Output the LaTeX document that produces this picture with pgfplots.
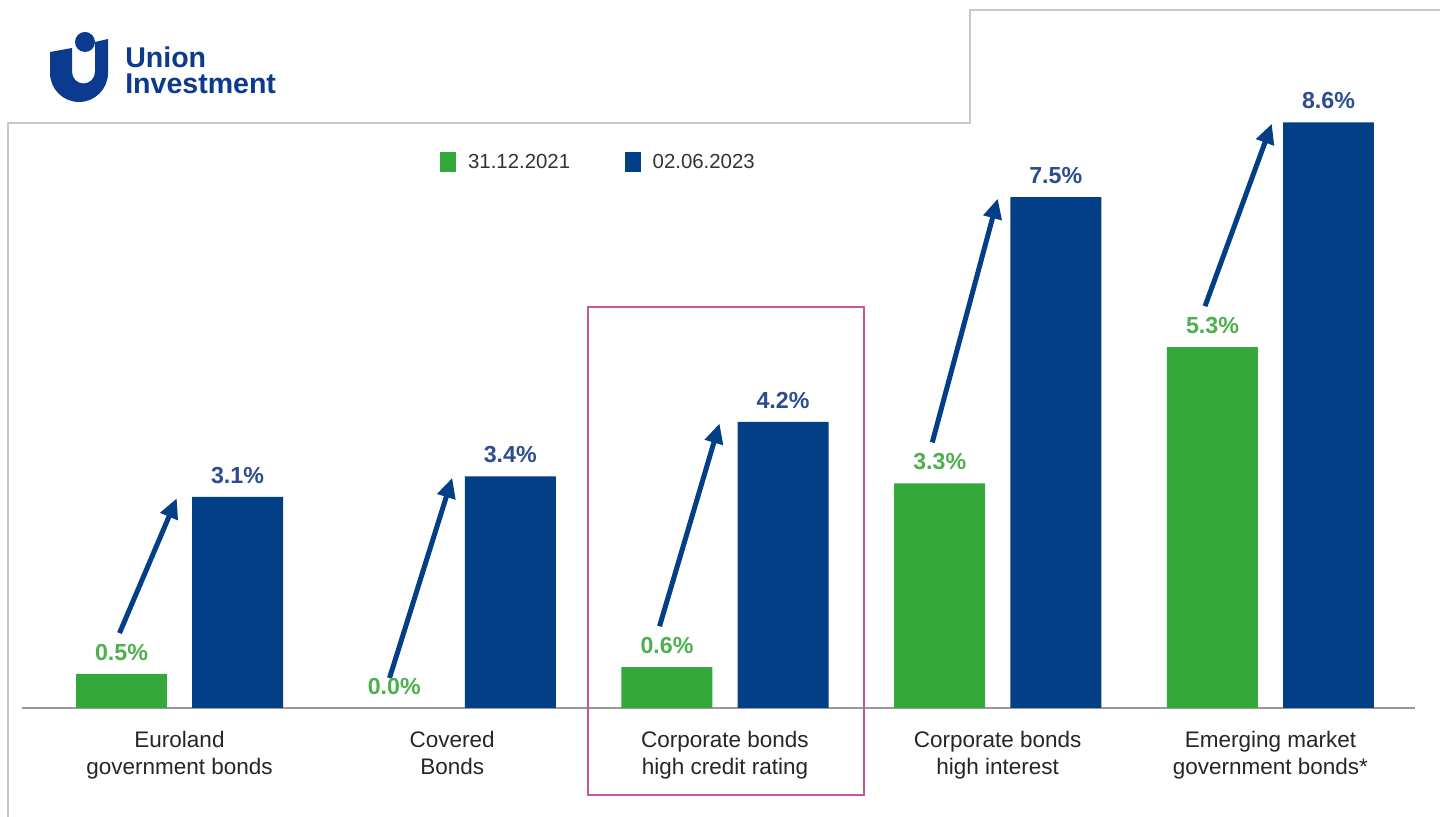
\documentclass[border=0pt]{standalone}
\usepackage{pgfplots}
\pgfplotsset{compat=1.18}
\usepackage{pgfplotstable}
\usepackage{fontspec}
\setmainfont{Liberation Sans}
\usetikzlibrary{arrows.meta}
\definecolor{ggreen}{HTML}{34A83A}
\definecolor{gblue}{HTML}{023F86}
\definecolor{lgreen}{HTML}{4DB04F}
\definecolor{lblue}{HTML}{2C4E8E}
\definecolor{logoblue}{HTML}{0B3A8E}
\definecolor{pinkbox}{HTML}{C4569B}
\definecolor{panelgray}{HTML}{C8C8C8}
\pgfplotsset{/pgf/number format/assume math mode=true}

% green: 31.12.2021 ; blue: 02.06.2023 (x = category index shifted to bar position)
\pgfplotstableread{
x y
-0.2127 0.5
0.7873 0.0
1.7873 0.6
2.7873 3.3
3.7873 5.3
}\greendata
\pgfplotstableread{
x y
0.2127 3.1
1.2127 3.4
2.2127 4.2
3.2127 7.5
4.2127 8.6
}\bluedata

\begin{document}
\begin{tikzpicture}
\begin{scope}[x=0.25mm,y=0.25mm]
\useasboundingbox (0,0) rectangle (1440,817);
\fill[white] (0,0) rectangle (1440,817);
% panel outline
\draw[panelgray, line width=0.5mm] (8,0) -- (8,694) -- (970,694) -- (970,807) -- (1440,807);
% logo
\fill[logoblue] (50,765) -- (72,769) -- (72,745) arc[start angle=180,end angle=360,radius=11.5] -- (95,775) -- (108,778) -- (108,744) arc[start angle=0,end angle=-180,radius=29] -- cycle;
\fill[logoblue] (85,775) circle[radius=10];
\node[anchor=base west, inner sep=0, font=\fontsize{20.3}{24}\selectfont\bfseries, text=logoblue] at (125,749) {Union};
\node[anchor=base west, inner sep=0, font=\fontsize{20.3}{24}\selectfont\bfseries, text=logoblue] at (125,723) {Investment};
\end{scope}

\begin{axis}[
  at={(5.5mm,27.25mm)}, anchor=south west,
  scale only axis, width=348.25mm, height=153.225mm,
  xmin=-0.5775, xmax=4.53, ymin=0, ymax=9,
  axis x line*=bottom, axis y line=none,
  x axis line style={draw=black!40, line width=0.4mm, -},
  xtick={0,1,2,3,4},
  xticklabels={Euroland\\government bonds, Covered\\Bonds, Corporate bonds\\high credit rating, Corporate bonds\\high interest, Emerging market\\government bonds*},
  major tick length=0pt,
  xticklabel style={align=center, anchor=north, yshift=-4.5mm, font=\fontsize{16}{19.2}\selectfont, text=black!85},
  ytick=\empty,
  clip=false,
  bar width=0.3336,
  nodes near coords={\pgfmathprintnumber[fixed,fixed zerofill,precision=1]{\pgfplotspointmeta}\%},
  every node near coord/.append style={anchor=base, yshift=3.4mm, font=\fontsize{16.5}{18}\selectfont\bfseries},
  legend style={at={(axis description cs:0.3001,0.8907)}, anchor=west, draw=none, fill=none,
    font=\fontsize{14.5}{17}\selectfont, text=black!80, inner sep=0pt,
    /tikz/every even column/.append style={column sep=13mm}},
  legend columns=2,
]
\addlegendimage{legend image code/.code={\fill[ggreen] (0mm,-2.4mm) rectangle (3.75mm,2.4mm); \path (6.1mm,0);}}
\addlegendentry{31.12.2021}
\addlegendimage{legend image code/.code={\fill[gblue] (0mm,-2.4mm) rectangle (3.75mm,2.4mm); \path (6.1mm,0);}}
\addlegendentry{02.06.2023}
\addplot[ybar, bar shift=0pt, fill=ggreen, draw=none, forget plot,
  every node near coord/.append style={text=lgreen}] table {\greendata};
\addplot[ybar, bar shift=0pt, fill=gblue, draw=none, forget plot,
  every node near coord/.append style={text=lblue}] table {\bluedata};
% arrows
\draw[gblue, line width=1.25mm, -{Triangle[length=5mm,width=4.5mm]}] (axis cs:-0.22,1.1) -- (axis cs:-0.01,3.08);
\draw[gblue, line width=1.25mm, -{Triangle[length=5mm,width=4.5mm]}] (axis cs:0.77,0.44) -- (axis cs:1.0,3.38);
\draw[gblue, line width=1.25mm, -{Triangle[length=5mm,width=4.5mm]}] (axis cs:1.76,1.2) -- (axis cs:1.98,4.18);
\draw[gblue, line width=1.25mm, -{Triangle[length=5mm,width=4.5mm]}] (axis cs:2.76,3.9) -- (axis cs:3.0,7.48);
\draw[gblue, line width=1.25mm, -{Triangle[length=5mm,width=4.5mm]}] (axis cs:3.76,5.9) -- (axis cs:4.005,8.58);
% highlight box
\draw[pinkbox, line width=0.5mm] (axis cs:1.496,-1.28) rectangle (axis cs:2.511,5.89);
\end{axis}
\end{tikzpicture}
\end{document}
